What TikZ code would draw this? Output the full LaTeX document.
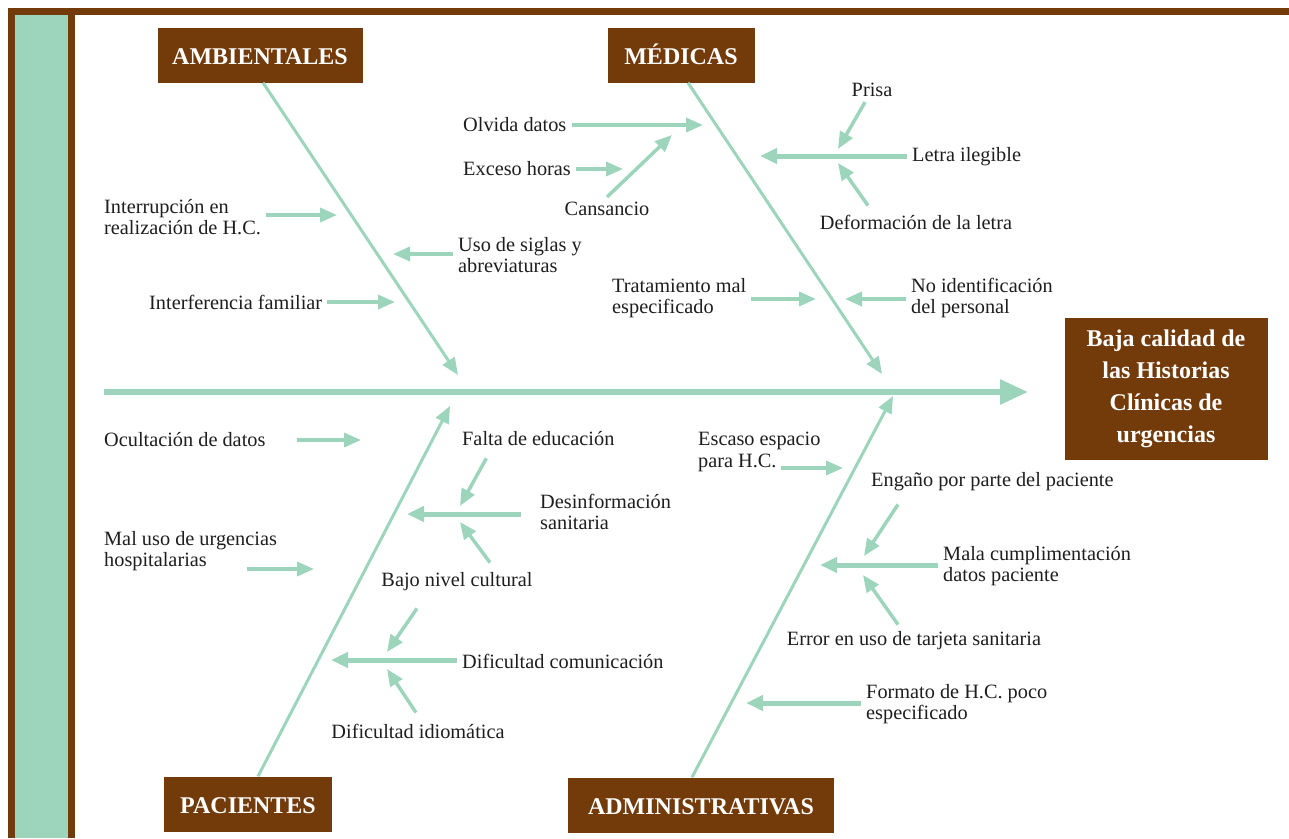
\documentclass[tikz,border=0pt]{standalone}
\usepackage{fontspec}
\setmainfont{Liberation Serif}
\usetikzlibrary{arrows.meta}
\definecolor{cafe}{RGB}{115,58,10}
\definecolor{menta}{RGB}{157,213,188}
\definecolor{tinta}{RGB}{30,30,30}

\begin{document}
\begin{tikzpicture}[x=1pt, y=-1pt,
  causa/.style={font=\fontsize{20.3}{21.5}\selectfont, text=tinta, align=left, inner sep=5pt},
  categoria/.style={fill=cafe, text=white, font=\fontsize{24}{30}\selectfont\bfseries,
    text height=19pt, text depth=0pt, minimum height=55pt},
  espina/.style={menta, line width=3pt, -{Triangle[length=17pt,width=14pt]}},
  flecha/.style={menta, line width=3.5pt, -{Triangle[length=17pt,width=14pt]}},
  rama/.style={menta, line width=5pt, -{Triangle[length=17pt,width=15pt]}}]
  % marco
  \fill[white] (0,0) rectangle (1289,838);
  \useasboundingbox (0,0) rectangle (1289,838);
  \fill[cafe] (8,8) rectangle (1289,838);
  \fill[white] (15,15) rectangle (1289,838);
  \fill[menta] (15,15) rectangle (68,838);
  \fill[cafe] (68,15) rectangle (75,838);

  % espina central y efecto
  \coordinate (inicio) at (104,392);
  \coordinate (fin) at (1028,392);
  \draw[menta, line width=6pt, -{Triangle[length=28pt,width=24pt]}] (inicio) -- (fin);
  \node[fill=cafe, text=white, font=\fontsize{24}{32}\selectfont\bfseries, align=center,
        minimum width=203pt, minimum height=142pt] (efecto) at (1166,389)
        {Baja calidad de\\las Historias\\Clínicas de\\urgencias};

  % categorias
  \node[categoria, minimum width=205pt] (amb) at (260,55) {AMBIENTALES};
  \node[categoria, minimum width=147pt] (med) at (681,55) {MÉDICAS};
  \node[categoria, minimum width=168pt] (pac) at (248,804) {PACIENTES};
  \node[categoria, minimum width=266pt] (adm) at (701,805) {ADMINISTRATIVAS};
  \coordinate (pAmb) at (458,375);
  \coordinate (pMed) at (882,374);
  \coordinate (pPac) at (450,406);
  \coordinate (pAdm) at (893,396);
  \draw[espina] ([xshift=3pt]amb.south) -- (pAmb);
  \draw[espina] ([xshift=7pt]med.south) -- (pMed);
  \draw[espina] ([xshift=10pt]pac.north) -- (pPac);
  \draw[espina] ([xshift=-9pt]adm.north) -- (pAdm);

  % ambientales
  \node[causa, anchor=west] (interr) at (99,217) {Interrupción en\\realización de H.C.};
  \node[causa, anchor=west] (siglas) at (453,255) {Uso de siglas y\\abreviaturas};
  \node[causa, anchor=west] (interf) at (144,302) {Interferencia familiar};
  \coordinate (tInterr) at (337,215);
  \coordinate (tSiglas) at (393,254);
  \coordinate (tInterf) at (395,302);
  \draw[flecha] (interr.east |- tInterr) -- (tInterr);
  \draw[flecha] (siglas.west |- tSiglas) -- (tSiglas);
  \draw[flecha] (interf.east |- tInterf) -- (tInterf);

  % medicas
  \node[causa, anchor=west] (olvida) at (458,125) {Olvida datos};
  \node[causa, anchor=west] (exceso) at (458,169) {Exceso horas};
  \node[causa] (cans) at (607,209) {Cansancio};
  \node[causa, anchor=west] (letra) at (907,157) {Letra ilegible};
  \node[causa] (prisa) at (872,90) {Prisa};
  \node[causa] (deform) at (916,222) {Deformación de la letra};
  \node[causa, anchor=west] (tratam) at (607,298) {Tratamiento mal\\especificado};
  \node[causa, anchor=west] (noident) at (906,298) {No identificación\\del personal};
  \coordinate (tOlvida) at (703,125);
  \coordinate (tExceso) at (623,169);
  \coordinate (tCans) at (672,135);
  \coordinate (tLetra) at (760,156);
  \coordinate (tPrisa) at (838,149);
  \coordinate (tDeform) at (838,163);
  \coordinate (tTratam) at (816,299);
  \coordinate (tNoident) at (845,299);
  \draw[flecha] (olvida.east |- tOlvida) -- (tOlvida);
  \draw[flecha] (exceso.east |- tExceso) -- (tExceso);
  \draw[flecha] (cans.north) -- (tCans);
  \draw[rama] (letra.west |- tLetra) -- (tLetra);
  \draw[flecha] (prisa) -- (tPrisa);
  \draw[flecha] ([shift={(-48,-4)}]deform.north) -- (tDeform);
  \draw[flecha] (tratam.east |- tTratam) -- (tTratam);
  \draw[flecha] (noident.west |- tNoident) -- (tNoident);

  % pacientes
  \node[causa, anchor=west] (ocult) at (99,440) {Ocultación de datos};
  \node[causa, anchor=west] (maluso) at (99,551) {Mal uso de urgencias\\hospitalarias};
  \node[causa, anchor=west] (falta) at (457,439) {Falta de educación};
  \node[causa, anchor=west] (desinf) at (535,512) {Desinformación\\sanitaria};
  \node[causa] (bajo) at (457,582) {Bajo nivel cultural};
  \node[causa, anchor=west] (difcom) at (457,661) {Dificultad comunicación};
  \node[causa] (difidi) at (418,731) {Dificultad idiomática};
  \coordinate (tOcult) at (361,440);
  \coordinate (tMaluso) at (314,569);
  \coordinate (tFalta) at (460,506);
  \coordinate (tDesinf) at (407,514);
  \coordinate (tBajoA) at (460,522);
  \coordinate (tBajoB) at (387,652);
  \coordinate (tDifcom) at (331,660);
  \coordinate (tDifidi) at (387,669);
  \draw[flecha] ([xshift=26pt]ocult.east) -- (tOcult);
  \draw[flecha] ([shift={(-35,18)}]maluso.east) -- (tMaluso);
  \draw[flecha] ([shift={(-52,7)}]falta.south) -- (tFalta);
  \draw[rama] ([shift={(-14,2)}]desinf.west) -- (tDesinf);
  \draw[flecha] ([shift={(33,-5)}]bajo.north) -- (tBajoA);
  \draw[flecha] ([shift={(-40,12)}]bajo.south) -- (tBajoB);
  \draw[rama] (difcom.west |- tDifcom) -- (tDifcom);
  \draw[flecha] ([shift={(-2,-6)}]difidi.north) -- (tDifidi);

  % administrativas
  \node[causa, anchor=west] (escaso) at (693,452) {Escaso espacio\\para H.C.};
  \node[causa, anchor=west] (engano) at (866,482) {Engaño por parte del paciente};
  \node[causa, anchor=west] (mala) at (938,566) {Mala cumplimentación\\datos paciente};
  \node[causa] (error) at (914,641) {Error en uso de tarjeta sanitaria};
  \node[causa, anchor=west] (formato) at (861,704) {Formato de H.C. poco\\especificado};
  \coordinate (tEscaso) at (843,468);
  \coordinate (tEngano) at (864,556);
  \coordinate (tMala) at (820,565);
  \coordinate (tError) at (863,575);
  \coordinate (tFormato) at (746,703);
  \draw[flecha] ([shift={(-45,16)}]escaso.east) -- (tEscaso);
  \draw[flecha] ([shift={(32,8)}]engano.south west) -- (tEngano);
  \draw[rama] (mala.west |- tMala) -- (tMala);
  \draw[flecha] ([shift={(-16,-2)}]error.north) -- (tError);
  \draw[rama] (formato.west |- tFormato) -- (tFormato);
\end{tikzpicture}
\end{document}
